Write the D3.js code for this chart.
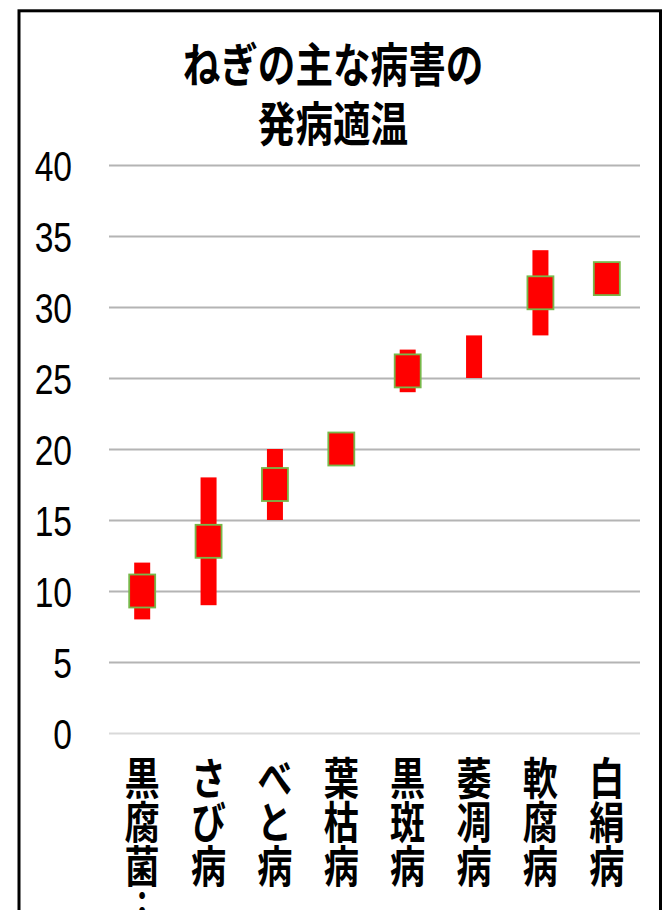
<!DOCTYPE html>
<html>
<head>
<meta charset="utf-8">
<script src="https://cdn.jsdelivr.net/npm/d3@7"></script>
<style>
  html, body { margin: 0; padding: 0; background: #fff; overflow: hidden; }
  svg { display: block; }
</style>
</head>
<body>
<svg id="chart" width="672" height="910"></svg>
<script>
// ---- data ----
const titleLines = ["ねぎの主な病害の", "発病適温"];
const categories = ["黒腐菌核病", "さび病", "べと病", "葉枯病", "黒斑病", "萎凋病", "軟腐病", "白絹病"];
const rangeLow  = [8, 9, 15, null, 24, 25, 28, null];
const rangeHigh = [12, 18, 20, null, 27, 28, 34, null];
const optimum   = [10, 13.5, 17.5, 20, 25.5, null, 31, 32];
const yTicks = [0, 5, 10, 15, 20, 25, 30, 35, 40];

// ---- layout ----
const W = 672, H = 910;
const sx = 0.8; // horizontal squeeze of the original picture
const plot = { left: 109, right: 640, top: 165, bottom: 733 };
const CJK = "'Noto Sans CJK JP', 'Noto Sans CJK SC', sans-serif";

const svg = d3.select("#chart");

// frame
svg.append("rect")
  .attr("x", 19).attr("y", 10.8)
  .attr("width", 641.5).attr("height", H + 20)
  .attr("fill", "#fff").attr("stroke", "#000").attr("stroke-width", 3);

// scales
const x = d3.scaleBand().domain(categories).range([plot.left, plot.right]).padding(0);
const y = d3.scaleLinear().domain([0, 40]).range([plot.bottom, plot.top]);

// y axis + gridlines
const yAxis = svg.append("g")
  .attr("transform", `translate(${plot.left},0)`)
  .call(d3.axisLeft(y).tickValues(yTicks).tickSize(-(plot.right - plot.left)).tickPadding(0));
yAxis.select(".domain").remove();
yAxis.selectAll(".tick line")
  .attr("stroke", d => d === 0 ? "#d9d9d9" : "#b4b4b4")
  .attr("stroke-width", 2);
yAxis.selectAll(".tick text")
  .attr("transform", `scale(${sx},1)`)
  .attr("x", -37 / sx)
  .attr("dy", "0.36em")
  .attr("fill", "#000")
  .style("font-family", "'Liberation Sans', Arial, sans-serif")
  .style("font-size", "42px")
  .attr("text-anchor", "end");

// range bars
const rangeData = categories.map((c, i) => ({ c, lo: rangeLow[i], hi: rangeHigh[i] }))
  .filter(d => d.lo != null && d.hi != null);
const barW = 16;
svg.append("g").selectAll("rect").data(rangeData).join("rect")
  .attr("x", d => x(d.c) + x.bandwidth() / 2 - barW / 2)
  .attr("y", d => y(d.hi))
  .attr("width", barW)
  .attr("height", d => y(d.lo) - y(d.hi))
  .attr("fill", "#ff0000");

// optimum markers
const optData = categories.map((c, i) => ({ c, v: optimum[i] })).filter(d => d.v != null);
const mW = 26, mH = 33;
svg.append("g").selectAll("rect").data(optData).join("rect")
  .attr("x", d => x(d.c) + x.bandwidth() / 2 - mW / 2)
  .attr("y", d => y(d.v) - mH / 2)
  .attr("width", mW)
  .attr("height", mH)
  .attr("fill", "#ff0000")
  .attr("stroke", "#77b84a")
  .attr("stroke-width", 1.8);

// x labels (vertical writing)
const labelText = s => s.length > 3 ? s.slice(0, 3) + "︙" : s;
svg.append("g").selectAll("g").data(categories).join("g")
  .attr("transform", d => `translate(${x(d) + x.bandwidth() / 2},756) scale(${sx},1)`)
  .append("text")
  .attr("x", 0).attr("y", 0)
  .style("writing-mode", "vertical-rl")
  .style("text-orientation", "upright")
  .style("font-family", CJK)
  .style("font-size", "44px")
  .style("font-weight", "700")
  .attr("fill", "#000")
  .text(d => labelText(d));

// title
const tg = svg.append("g").attr("transform", `translate(333,0) scale(${sx},1)`);
tg.selectAll("text").data(titleLines).join("text")
  .attr("x", 0)
  .attr("y", (d, i) => 82 + i * 59)
  .attr("text-anchor", "middle")
  .style("font-family", CJK)
  .style("font-size", "47px")
  .style("font-weight", "700")
  .attr("fill", "#000")
  .text(d => d);
</script>
</body>
</html>
